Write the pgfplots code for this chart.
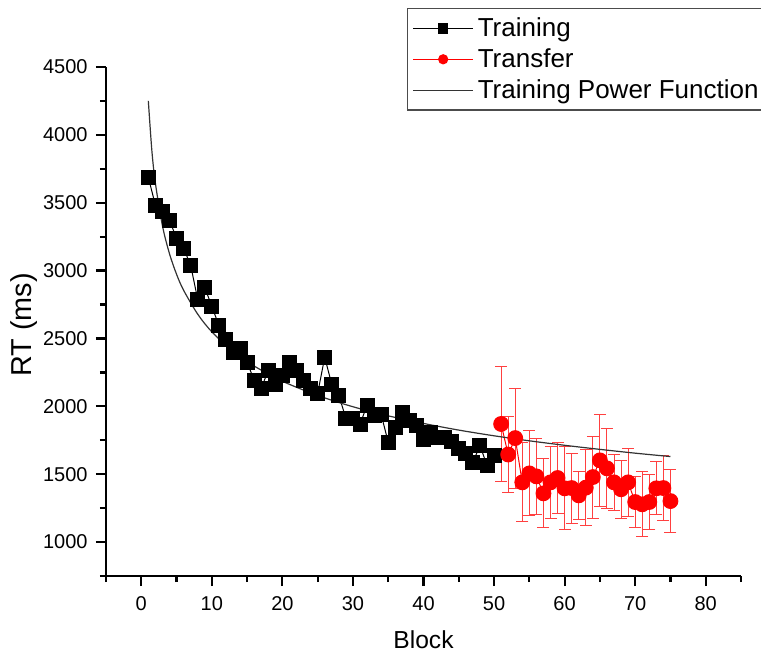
\documentclass[border=0pt]{standalone}
\usepackage{fontspec}
\setmainfont{Liberation Sans}
\usepackage{pgfplots}
\pgfplotsset{compat=1.18}
\begin{document}
\begin{tikzpicture}
\begin{axis}[
 scale only axis, width=317.5pt, height=254.5pt,
 xmin=-5, xmax=85, ymin=750, ymax=4500,
 axis lines=left, axis line style={-, line width=1.1pt},
 xtick={0,10,...,80}, minor xtick={-5,5,...,85},
 ytick={1000,1500,...,4500}, minor ytick={750,1250,...,4250},
 tick align=outside, major tick length=5pt, minor tick length=3pt,
 tick style={black, line width=1.1pt},
 /pgf/number format/assume math mode=true,
 scaled y ticks=false, yticklabel style={/pgf/number format/1000 sep={}, xshift=-0.7pt},
 xticklabel style={yshift=-1.7pt},
 tick label style={font=\fontsize{10}{12}\selectfont},
 xlabel={Block}, ylabel={RT (ms)},
 xlabel style={font=\fontsize{12.3}{14}\selectfont, at={(axis description cs:0.5,-0.1257)}, anchor=center},
 ylabel style={font=\fontsize{14.4}{16}\selectfont, at={(axis description cs:-0.129,0.493)}, anchor=center},
 legend style={at={(rel axis cs:0.474,1.116)}, anchor=north west, font=\fontsize{13}{15}\selectfont, draw=black!70, line width=0.6pt, inner sep=2.5pt, row sep=0.5pt},
 legend cell align=left,
 legend image code/.code={\draw[mark repeat=2,mark phase=2,#1, mark size=2.3pt] plot coordinates {(0pt,0pt) (15pt,0pt) (30pt,0pt)};},
 clip=false,
]
\coordinate (ll) at (rel axis cs:0,0);
\coordinate (ur) at (rel axis cs:1,1);
\addplot[black, line width=0.5pt, mark=square*, mark size=3.5pt, mark options={solid}] coordinates {
(1,3688) (2,3481) (3,3436) (4,3370) (5,3238) (6,3164) (7,3039) (8,2787) (9,2876) (10,2736)
(11,2596) (12,2494) (13,2398) (14,2427) (15,2324) (16,2192) (17,2133) (18,2265) (19,2162) (20,2228)
(21,2324) (22,2265) (23,2192) (24,2133) (25,2096) (26,2361) (27,2162) (28,2081) (29,1912) (30,1912)
(31,1868) (32,2008) (33,1934) (34,1941) (35,1735) (36,1846) (37,1956) (38,1897) (39,1860) (40,1757)
(41,1809) (42,1772) (43,1772) (44,1742) (45,1691) (46,1654) (47,1587) (48,1712) (49,1565) (50,1639)
};
\addlegendentry{Training}
\addplot[red, line width=0.5pt, mark=*, mark size=3.7pt,
 error bars/.cd, y dir=both, y explicit,
 error bar style={red!75, line width=0.5pt},
 error mark options={rotate=90, red!75, mark size=3pt, line width=0.5pt}] coordinates {
(51,1870) +- (0,426) (52,1645) +- (0,283) (53,1766) +- (0,368) (54,1440) +- (0,291) (55,1506) +- (0,313)
(56,1484) +- (0,280) (57,1359) +- (0,254) (58,1440) +- (0,265) (59,1472) +- (0,265) (60,1396) +- (0,307)
(61,1398) +- (0,258) (62,1344) +- (0,175) (63,1401) +- (0,282) (64,1479) +- (0,302) (65,1602) +- (0,341)
(66,1543) +- (0,295) (67,1440) +- (0,206) (68,1389) +- (0,212) (69,1440) +- (0,253) (70,1295) +- (0,186)
(71,1278) +- (0,240) (72,1295) +- (0,202) (73,1396) +- (0,196) (74,1398) +- (0,238) (75,1302) +- (0,235)
};
\addlegendentry{Transfer}
\addplot[black!80, line width=0.6pt, smooth] coordinates {
(1,4250) (1.5,3884) (2,3644) (3,3330) (4,3124) (5,2973) (6,2855) (8,2679) (10,2549) (13,2405)
(16,2297) (20,2185) (25,2080) (30,1997) (35,1930) (40,1874) (45,1825) (50,1783) (55,1746)
(60,1713) (65,1683) (70,1655) (75,1630)
};
\addlegendentry{Training Power Function\hspace{8pt}}
\end{axis}
\pgfresetboundingbox
\path[use as bounding box] ([shift={(-53pt,-38pt)}]ll) rectangle ([shift={(10pt,33.5pt)}]ur);
\end{tikzpicture}
\end{document}
